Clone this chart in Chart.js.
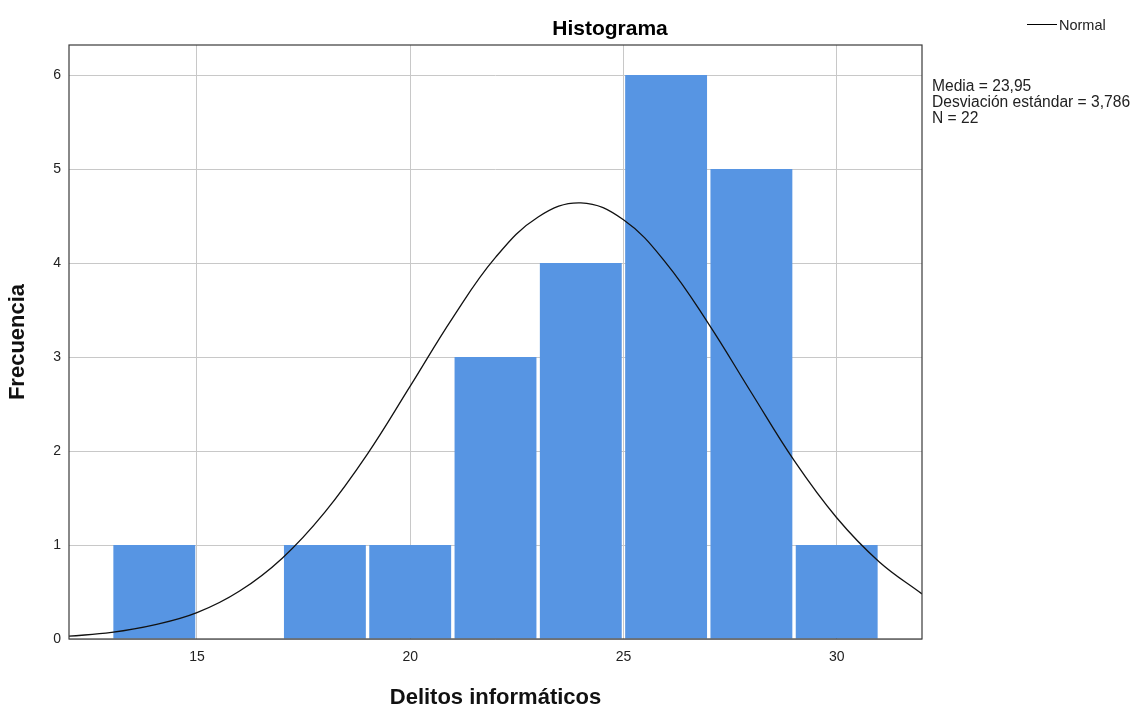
<!DOCTYPE html>
<html>
<head>
<meta charset="utf-8">
<title>Histograma</title>
<script src="https://cdn.jsdelivr.net/npm/chart.js@4.4.1/dist/chart.umd.min.js"></script>
<style>
  html, body { margin: 0; padding: 0; background: #fff; }
  #wrap { width: 1139px; height: 711px; }
</style>
</head>
<body>
<div id="wrap"><canvas id="myChart" width="1139" height="711"></canvas></div>
<script>
"use strict";

// histogram bins (width 2) and counts
const binCenters = [14, 16, 18, 20, 22, 24, 26, 28, 30];
const frequencies = [1, 0, 1, 1, 3, 4, 6, 5, 1];

// normal curve
const curveX = [12, 13, 14, 15, 16, 17, 18, 19, 20, 21, 22, 23, 24, 25, 26, 27, 28, 29, 30, 31, 32];
const curveY = [0.03, 0.07, 0.15, 0.28, 0.51, 0.86, 1.35, 1.97, 2.69, 3.42, 4.06, 4.49, 4.64, 4.46, 4.0, 3.35, 2.62, 1.9, 1.29, 0.82, 0.48];

const xTicks = [15, 20, 25, 30];
const yTicks = [0, 1, 2, 3, 4, 5, 6];

const statsLines = ["Media = 23,95", "Desviación estándar = 3,786", "N = 22"];

const FONT = "'Liberation Sans', Arial, sans-serif";

// frame, title, legend and stats box
const extras = {
  id: "extras",
  afterDraw(chart) {
    const ctx = chart.ctx;
    const a = chart.chartArea;
    ctx.save();
    ctx.strokeStyle = "#3a3a3a";
    ctx.lineWidth = 1.2;
    ctx.strokeRect(a.left, a.top, a.right - a.left, a.bottom - a.top);

    ctx.fillStyle = "#000";
    ctx.font = "bold 21px " + FONT;
    ctx.textAlign = "center";
    ctx.textBaseline = "alphabetic";
    ctx.fillText("Histograma", 610, 35);

    // legend
    ctx.strokeStyle = "#000";
    ctx.lineWidth = 1;
    ctx.beginPath();
    ctx.moveTo(1027, 24.5);
    ctx.lineTo(1057, 24.5);
    ctx.stroke();
    ctx.font = "14.5px " + FONT;
    ctx.textAlign = "left";
    ctx.fillStyle = "#222";
    ctx.fillText("Normal", 1059, 29.5);

    ctx.font = "15.6px " + FONT;
    statsLines.forEach((t, i) => {
      ctx.fillText(t, 932, 90.5 + i * 16);
    });
    ctx.restore();
  },
};

const ctx = document.getElementById("myChart").getContext("2d");
const myChart = new Chart(ctx, {
  type: "bar",
  data: {
    datasets: [
      {
        type: "line",
        label: "Normal",
        data: curveX.map((x, i) => ({ x: x, y: curveY[i] })),
        borderColor: "#111",
        borderWidth: 1.3,
        pointRadius: 0,
        fill: false,
        tension: 0.4,
        order: 0,
      },
      {
        type: "bar",
        label: "Frecuencia",
        data: binCenters.map((x, i) => ({ x: x, y: frequencies[i] })),
        backgroundColor: "#5795e3",
        borderWidth: 0,
        barPercentage: 0.96,
        categoryPercentage: 1,
        order: 1,
      },
    ],
  },
  options: {
    responsive: false,
    animation: false,
    layout: { padding: { top: 45, right: 217, left: 0, bottom: 0 } },
    plugins: {
      legend: { display: false },
      title: { display: false },
      tooltip: { enabled: false },
    },
    scales: {
      x: {
        type: "linear",
        offset: false,
        min: 12,
        max: 32,
        afterBuildTicks: (scale) => {
          scale.ticks = xTicks.map((v) => ({ value: v }));
        },
        afterFit: (scale) => {
          scale.height = 72;
        },
        grid: { color: "#c8c8c8", lineWidth: 1, drawTicks: false, offset: false },
        border: { display: false },
        ticks: {
          padding: 10,
          color: "#222",
          font: { family: FONT, size: 14 },
        },
        title: {
          display: true,
          text: "Delitos informáticos",
          color: "#111",
          font: { family: FONT, size: 22, weight: "bold" },
          padding: { top: 0, bottom: 0 },
        },
      },
      y: {
        min: 0,
        max: 6.32,
        afterBuildTicks: (scale) => {
          scale.ticks = yTicks.map((v) => ({ value: v }));
        },
        afterFit: (scale) => {
          scale.width = 69;
        },
        grid: { color: "#c8c8c8", lineWidth: 1, drawTicks: false },
        border: { display: false },
        ticks: {
          padding: 8,
          color: "#222",
          font: { family: FONT, size: 14 },
        },
        title: {
          display: true,
          text: "Frecuencia",
          color: "#111",
          font: { family: FONT, size: 22, weight: "bold" },
          padding: { top: 5, bottom: 0 },
        },
      },
    },
  },
  plugins: [extras],
});
</script>
</body>
</html>
